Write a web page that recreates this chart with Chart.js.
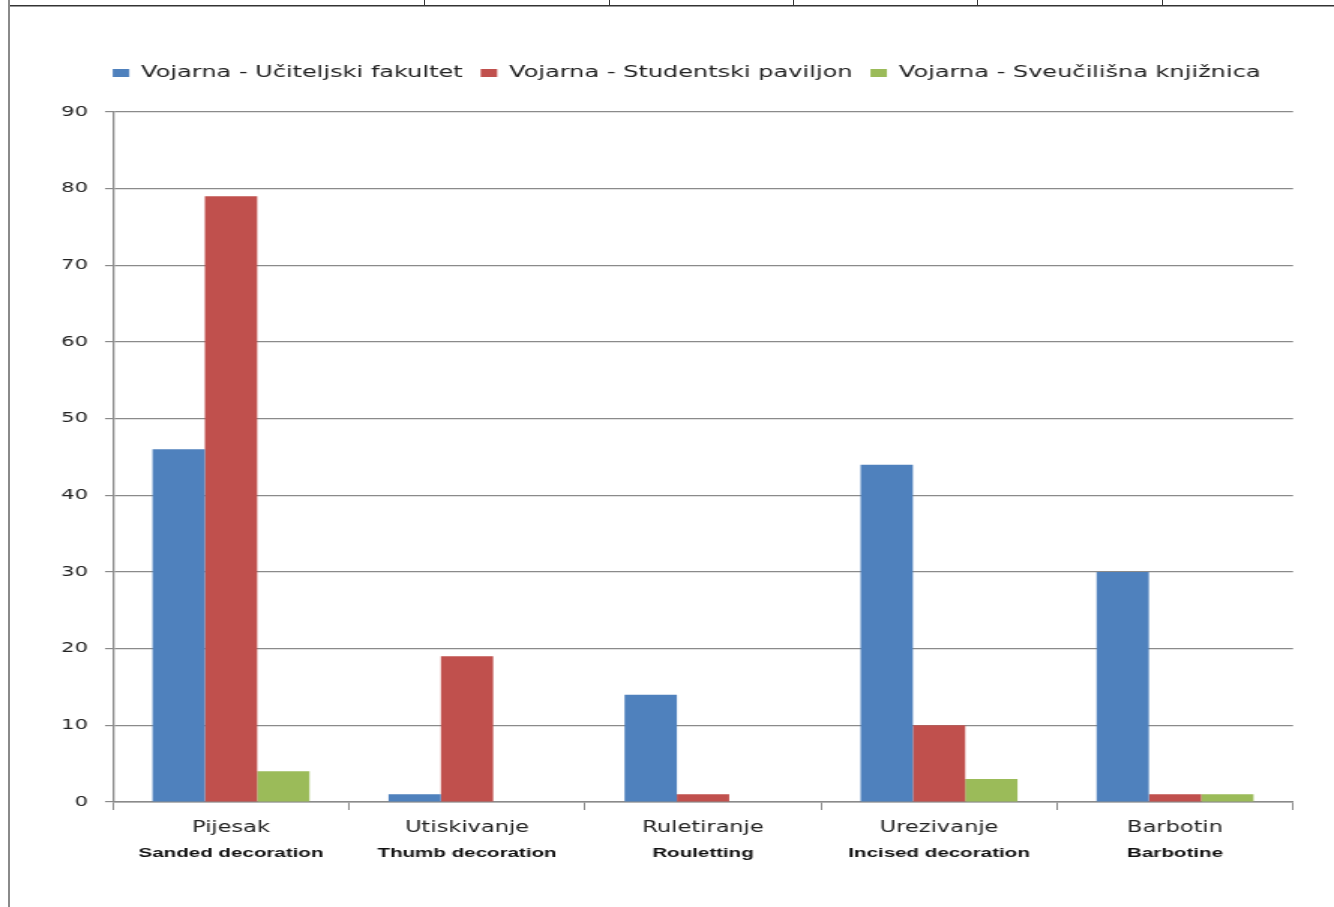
<!DOCTYPE html>
<html>
<head>
<meta charset="utf-8">
<script src="https://cdn.jsdelivr.net/npm/chart.js@4/dist/chart.umd.min.js"></script>
<style>
  html, body { margin: 0; padding: 0; background: #fff; }
  body { width: 1334px; height: 907px; position: relative; overflow: hidden; }
  #wrap { position: absolute; left: 0; top: 0; width: 889px; height: 907px; transform-origin: 0 0; transform: scaleX(1.50056); }
  .crta { position: absolute; background: #333; }
</style>
</head>
<body>
<!-- okvir tablice -->
<div class="crta" style="left:8px; right:0; top:5px; height:1px;"></div>
<div class="crta" style="left:8px; right:0; top:6px; height:1px; background:#999;"></div>
<div class="crta" style="left:8px; top:0; bottom:0; width:2px; background:#8a8a8a;"></div>
<div class="crta" style="left:424px; top:0; height:6px; width:1px;"></div>
<div class="crta" style="left:609px; top:0; height:6px; width:1px;"></div>
<div class="crta" style="left:793px; top:0; height:6px; width:1px;"></div>
<div class="crta" style="left:977px; top:0; height:6px; width:1px;"></div>
<div class="crta" style="left:1162px; top:0; height:6px; width:1px;"></div>

<div id="wrap"><canvas id="grafikon"></canvas></div>

<script>
// podaci
const kategorije = ['Pijesak', 'Utiskivanje', 'Ruletiranje', 'Urezivanje', 'Barbotin'];
const engleski = ['Sanded decoration', 'Thumb decoration', 'Rouletting', 'Incised decoration', 'Barbotine'];
const ucitFakultet = [46, 1, 14, 44, 30];
const studPaviljon = [79, 19, 1, 10, 1];
const sveucKnjiznica = [4, 0, 0, 3, 1];
const nazivi = ['Vojarna - Učiteljski fakultet', 'Vojarna - Studentski paviljon', 'Vojarna - Sveučilišna knjižnica'];
const yMin = 0, yMax = 90, yKorak = 10;

const boje = ['#4F81BD', '#C0504D', '#9BBB59'];
const sivo = '#8a8a8a';

// razmak ispod legende i pomak legende udesno
const legendaRazmak = {
    id: 'legendaRazmak',
    beforeInit(chart) {
        const fit = chart.legend.fit;
        chart.legend.fit = function () {
            fit.bind(chart.legend)();
            this.height += 21;
        };
    },
    afterLayout(chart) {
        chart.legend.left += 26.7;
        chart.legend.right += 26.7;
    }
};

const ctx = document.getElementById('grafikon').getContext('2d');
new Chart(ctx, {
    type: 'bar',
    data: {
        labels: kategorije,
        datasets: [
            { label: nazivi[0], data: ucitFakultet, backgroundColor: boje[0] },
            { label: nazivi[1], data: studPaviljon, backgroundColor: boje[1] },
            { label: nazivi[2], data: sveucKnjiznica, backgroundColor: boje[2] }
        ]
    },
    options: {
        responsive: true,
        maintainAspectRatio: false,
        animation: false,
        layout: { padding: { left: 0, right: 27.3, top: 53, bottom: 40 } },
        datasets: { bar: { categoryPercentage: 0.665, barPercentage: 1.0 } },
        plugins: {
            tooltip: { enabled: false },
            legend: {
                position: 'top',
                labels: {
                    boxWidth: 11,
                    boxHeight: 8,
                    padding: 12,
                    color: '#222',
                    font: { family: 'DejaVu Sans', size: 16 }
                }
            }
        },
        scales: {
            x: {
                type: 'category',
                weight: 1,
                grid: { display: true, drawOnChartArea: false, offset: true, tickLength: 8, color: sivo, lineWidth: 1 },
                border: { display: true, color: sivo, width: 1.5 },
                ticks: { color: '#222', padding: 9, font: { family: 'DejaVu Sans', size: 15 }, maxRotation: 0 },
                afterFit(s) { s.height = 35; }
            },
            x2: {
                type: 'category',
                labels: engleski,
                position: 'bottom',
                weight: 2,
                grid: { display: false, drawTicks: false },
                border: { display: false },
                ticks: { color: '#111', padding: 8, font: { family: 'Liberation Sans', size: 13.7, weight: 'bold' }, maxRotation: 0 },
                afterFit(s) { s.height = 30; }
            },
            y: {
                min: yMin,
                max: yMax,
                ticks: { stepSize: yKorak, color: '#222', padding: 11.4, font: { family: 'DejaVu Sans', size: 14 } },
                grid: { color: sivo, lineWidth: 1.2, tickLength: 5.3 },
                border: { display: true, color: sivo, width: 1.3 },
                afterFit(s) { s.width = 75.3; }
            }
        }
    },
    plugins: [legendaRazmak]
});
</script>
</body>
</html>
